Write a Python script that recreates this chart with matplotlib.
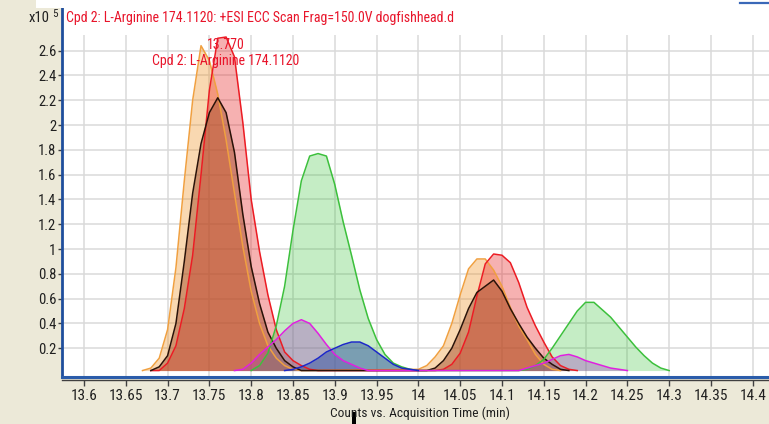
import numpy as np
import matplotlib
matplotlib.use("Agg")
import matplotlib.pyplot as plt
from matplotlib.patches import Rectangle
from matplotlib.lines import Line2D

# Extracted ion chromatograms, intensity in units of 1e5 counts.
# Each segment: (start time in min, readings every 0.01 min)
STEP = 0.01
BASELINE = 0.02

orange_segments = [
    (13.67, [0.02, 0.04, 0.12, 0.35, 0.85, 1.55, 2.20, 2.64, 2.52, 2.25, 1.88,
             1.45, 1.02, 0.66, 0.40, 0.22, 0.12, 0.06, 0.03, 0.02]),
    (14.00, [0.03, 0.06, 0.13, 0.22, 0.40, 0.63, 0.84, 0.92, 0.92, 0.83, 0.70,
             0.53, 0.38, 0.27, 0.15, 0.07, 0.03, 0.02]),
]
red_segments = [
    (13.68, [0.02, 0.02, 0.08, 0.22, 0.52, 0.95, 1.60, 2.28, 2.70, 2.71, 2.55,
             2.02, 1.40, 0.98, 0.63, 0.35, 0.17, 0.10, 0.06, 0.03, 0.02]),
    (14.02, [0.02, 0.03, 0.07, 0.16, 0.33, 0.62, 0.88, 0.96, 0.95, 0.89, 0.73,
             0.53, 0.38, 0.25, 0.13, 0.06, 0.03, 0.02]),
]
dark_segments = [
    (13.68, [0.02, 0.05, 0.14, 0.40, 0.90, 1.45, 1.85, 2.10, 2.22, 2.10, 1.78,
             1.28, 0.86, 0.56, 0.33, 0.20, 0.10, 0.05, 0.02]),
    (14.01, [0.02, 0.04, 0.10, 0.20, 0.35, 0.52, 0.65, 0.70, 0.75, 0.66, 0.52,
             0.40, 0.29, 0.20, 0.12, 0.07, 0.03, 0.02]),
]
green_segments = [
    (13.80, [0.02, 0.06, 0.16, 0.38, 0.70, 1.15, 1.55, 1.75, 1.77, 1.75, 1.52,
             1.22, 0.95, 0.67, 0.44, 0.27, 0.15, 0.08, 0.05, 0.03, 0.02]),
    (14.12, [0.02, 0.03, 0.06, 0.11, 0.20, 0.30, 0.40, 0.50, 0.57, 0.57, 0.51,
             0.45, 0.37, 0.29, 0.21, 0.14, 0.08, 0.04, 0.02]),
]
magenta_segments = [
    (13.78, [0.02, 0.03, 0.08, 0.15, 0.21, 0.27, 0.34, 0.40, 0.43, 0.40, 0.32,
             0.23, 0.15, 0.10, 0.07, 0.04, 0.02]),
    (14.12, [0.02, 0.04, 0.06, 0.08, 0.11, 0.14, 0.15, 0.13, 0.10, 0.08, 0.06,
             0.04, 0.03, 0.02]),
]
blue_segments = [
    (13.84, [0.02, 0.03, 0.05, 0.08, 0.12, 0.17, 0.20, 0.23, 0.25, 0.25, 0.22,
             0.17, 0.12, 0.07, 0.04, 0.03, 0.02]),
]

# (segments, edge colour, fill colour, fill alpha)
traces = [
    (orange_segments, "#f0a040", "#f09020", 0.35),
    (red_segments, "#ec1c24", "#e82020", 0.35),
    (dark_segments, "#2a1208", "#a64f2c", 0.5),
    (green_segments, "#3cc03c", "#30c030", 0.28),
    (magenta_segments, "#e020e0", "#a040c0", 0.35),
    (blue_segments, "#1c28c8", "#3050a0", 0.5),
]

apex_time = 13.770
apex_height = 2.71
compound = "Cpd 2: L-Arginine 174.1120"
title = compound + ": +ESI ECC Scan Frag=150.0V dogfishhead.d"

xticks = [13.6, 13.65, 13.7, 13.75, 13.8, 13.85, 13.9, 13.95, 14.0, 14.05,
          14.1, 14.15, 14.2, 14.25, 14.3, 14.35, 14.4]
xtick_labels = ["13.6", "13.65", "13.7", "13.75", "13.8", "13.85", "13.9",
                "13.95", "14", "14.05", "14.1", "14.15", "14.2", "14.25",
                "14.3", "14.35", "14.4"]
yticks = [0.2, 0.4, 0.6, 0.8, 1.0, 1.2, 1.4, 1.6, 1.8, 2.0, 2.2, 2.4, 2.6]
ytick_labels = ["0.2", "0.4", "0.6", "0.8", "1", "1.2", "1.4", "1.6", "1.8",
                "2", "2.2", "2.4", "2.6"]

plt.rcParams["font.family"] = ["Roboto Condensed", "Liberation Sans", "DejaVu Sans"]

W, H = 769, 424
fig = plt.figure(figsize=(W / 100, H / 100), dpi=100, facecolor="#ece9d8")

# white strip along the top of the window
fig.add_artist(Rectangle((36 / W, 1 - 8 / H), 1, 8 / H, transform=fig.transFigure,
                         facecolor="white", edgecolor="none"))
fig.add_artist(Line2D([740 / W, 1], [1 - 3 / H] * 2, color="#3a68b8", lw=1.6))

ax = fig.add_axes([62 / W, 47 / H, (W - 62) / W, 369 / H])
ax.set_facecolor("white")
ax.set_xlim(13.5737, 14.4194)
ax.set_ylim(-0.032, 2.944)

ax.vlines(xticks, -0.032, 2.726, color="#dadada", lw=1.1, zorder=0)
ax.hlines(yticks, 13.5737, 14.4194, color="#dadada", lw=1.1, zorder=0)

def segment_arrays(segments):
    t, y = [], []
    for start, vals in segments:
        t.extend(start + STEP * np.arange(len(vals)))
        y.extend(vals)
    return np.array(t), np.array(y)

for i, (segs, edge, fill, alpha) in enumerate(traces):
    t, y = segment_arrays(segs)
    ax.fill_between(t, y, BASELINE, color=fill, alpha=alpha, lw=0, zorder=2 + i * 0.1)
for i, (segs, edge, fill, alpha) in enumerate(traces):
    t, y = segment_arrays(segs)
    ax.plot(t, y, color=edge, lw=1.1, zorder=3 + i * 0.1)

red = "#e8142a"
ax.annotate(f"{apex_time:.3f}", xy=(apex_time, apex_height), xytext=(0, -6),
            textcoords="offset points", ha="center", va="center", color=red,
            fontsize=10, zorder=5)
ax.annotate(compound, xy=(apex_time, apex_height), xytext=(0, -17.5),
            textcoords="offset points", ha="center", va="center", color=red,
            fontsize=10, zorder=5)

fig.text(66 / W, 1 - 18 / H, title, color=red, fontsize=10, va="center", ha="left")
fig.text(50 / W, 1 - 18 / H, "x10", color="#202020", fontsize=10.5, va="center", ha="right")
fig.text(52 / W, 1 - 14 / H, "5", color="#202020", fontsize=8, va="center", ha="left")

for side in ("top", "right"):
    ax.spines[side].set_visible(False)
ax.spines["left"].set_color("#1f4e9c")
ax.spines["left"].set_linewidth(2)
ax.spines["bottom"].set_position(("outward", 2.5))
ax.spines["bottom"].set_color("#404040")
ax.spines["bottom"].set_linewidth(1)
ax.plot([0, 1], [0, 0], transform=ax.transAxes, color="#2a5caa", lw=2.2,
        clip_on=False, zorder=6)

ax.set_xticks(xticks)
ax.set_xticklabels(xtick_labels)
ax.set_yticks(yticks)
ax.set_yticklabels(ytick_labels)
ax.tick_params(axis="x", direction="out", length=4.5, width=1, color="#404040",
               pad=1.5, labelsize=11, labelcolor="#202020")
ax.tick_params(axis="y", direction="out", length=3, width=1, color="#404040",
               pad=1, labelsize=10.5, labelcolor="#202020")
fig.text(420 / W, 1 - 413 / H, "Counts vs. Acquisition Time (min)", fontsize=9.6,
         color="#202020", ha="center", va="center")

# mouse cursor left over the axis title
fig.add_artist(Rectangle((352 / W, 0), 4 / W, 12 / H, transform=fig.transFigure,
                         facecolor="black", edgecolor="none"))

fig.savefig("out.png", dpi=100, facecolor=fig.get_facecolor())
